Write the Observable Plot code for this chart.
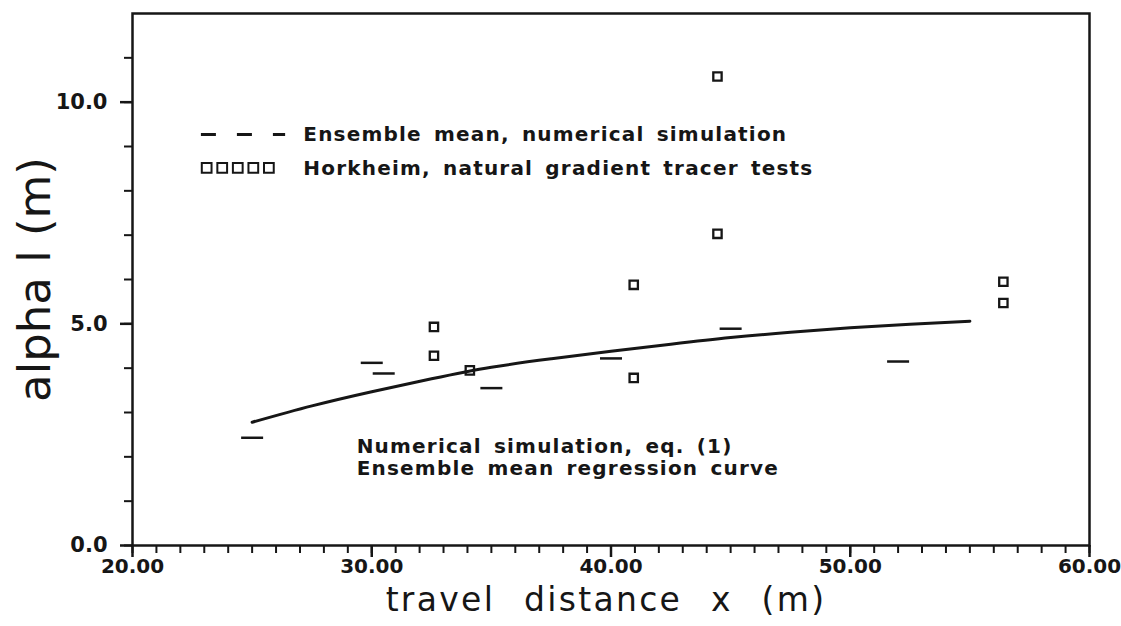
<!DOCTYPE html>
<html>
<head>
<meta charset="utf-8">
<script src="https://cdn.jsdelivr.net/npm/d3@7"></script>
<script src="https://cdn.jsdelivr.net/npm/@observablehq/plot@0.6"></script>
<style>
  html, body { margin: 0; padding: 0; background: #fff; }
  #chart { width: 1121px; height: 626px; overflow: hidden; }
</style>
</head>
<body>
<div id="chart"></div>
<script>
// ---- data ----
// Ensemble mean, numerical simulation (short horizontal dashes)
const dashX = [25.0, 30.0, 30.5, 35.0, 40.0, 45.0, 52.0];
const dashY = [2.43, 4.12, 3.88, 3.55, 4.22, 4.89, 4.15];
// Horkheim, natural gradient tracer tests (open squares)
const squareX = [32.6, 32.6, 34.1, 40.95, 40.95, 44.45, 44.45, 56.4, 56.4];
const squareY = [4.93, 4.28, 3.95, 5.88, 3.78, 10.58, 7.03, 5.95, 5.47];
// Ensemble mean regression curve, eq. (1)
const curveX = [25, 27.5, 30, 32.5, 35, 37.5, 40, 42.5, 45, 47.5, 50, 52.5, 55];
const curveY = [2.78, 3.15, 3.47, 3.76, 4.02, 4.21, 4.38, 4.54, 4.69, 4.81, 4.91, 4.99, 5.06];
// axes
const xMajor = [20, 30, 40, 50, 60];
const yMajor = [0, 5, 10];
const legendLabels = ["Ensemble mean, numerical simulation", "Horkheim, natural gradient tracer tests"];
const noteLabels = ["Numerical simulation, eq. (1)", "Ensemble mean regression curve"];
const xTitle = "travel distance x (m)";
const yTitle = "alpha l (m)";

// ---- tables ----
const dashes = dashX.map((x, i) => ({x, y: dashY[i]}));
const squares = squareX.map((x, i) => ({x, y: squareY[i]}));
const curve = curveX.map((x, i) => ({x, y: curveY[i]}));

const ink = "#161616";
const dashSymbol = { draw(ctx) { ctx.moveTo(-11, 0); ctx.lineTo(11, 0); } };
const legendSquares = d3.range(5).map(i => ({x: 23.1 + i * 0.65, y: 8.52}));

const chart = Plot.plot({
  width: 1121,
  height: 626,
  marginLeft: 132,
  marginRight: 32,
  marginTop: 13,
  marginBottom: 81,
  x: {domain: [20, 60]},
  y: {domain: [0, 12]},
  style: {fontFamily: "DejaVu Sans", background: "#fff", color: ink},
  marks: [
    // minor ticks
    Plot.axisX({ticks: d3.range(20, 61, 1), tickSize: 8, strokeWidth: 2, tickFormat: () => "", label: null}),
    Plot.axisY({ticks: d3.range(0, 12, 1), tickSize: 8, strokeWidth: 2, tickFormat: () => "", label: null}),
    // major ticks with labels
    Plot.axisX({ticks: xMajor, tickSize: 12, strokeWidth: 2.5, tickPadding: 1,
      tickFormat: d => d.toFixed(2), fontSize: 20, fontWeight: "bold", label: null}),
    Plot.axisY({ticks: yMajor, tickSize: 12, strokeWidth: 2.5, tickPadding: 13,
      tickFormat: d => d.toFixed(1), fontSize: 21, fontWeight: "bold", label: null}),
    Plot.frame({stroke: ink, strokeWidth: 2.5}),
    // axis titles
    Plot.text([xTitle], {frameAnchor: "bottom", textAnchor: "middle", dy: 65, dx: -5, fontSize: 33, fill: ink}),
    Plot.text([yTitle], {frameAnchor: "left", textAnchor: "middle", dx: -97, rotate: -90, fontSize: 45, fill: ink}),
    // regression curve
    Plot.line(curve, {x: "x", y: "y", curve: "natural", stroke: ink, strokeWidth: 3}),
    // ensemble mean dashes
    Plot.dot(dashes, {x: "x", y: "y", symbol: dashSymbol, stroke: ink, strokeWidth: 2.5}),
    // tracer test squares
    Plot.dot(squares, {x: "x", y: "y", symbol: "square", r: 4.7, stroke: ink, strokeWidth: 2.3, fill: "none"}),
    // legend
    Plot.ruleY([9.27], {x1: 22.88, x2: 26.4, stroke: ink, strokeWidth: 3, strokeDasharray: "15,21"}),
    Plot.dot(legendSquares, {x: "x", y: "y", symbol: "square", r: 5.5, stroke: ink, strokeWidth: 2, fill: "none"}),
    Plot.text([legendLabels[0]], {x: 27.14, y: 9.27, textAnchor: "start", fontSize: 20, fontWeight: "bold", fill: ink}),
    Plot.text([legendLabels[1]], {x: 27.14, y: 8.5, textAnchor: "start", fontSize: 20, fontWeight: "bold", fill: ink}),
    // annotation
    Plot.text([noteLabels[0]], {x: 29.37, y: 2.24, textAnchor: "start", fontSize: 20, fontWeight: "bold", fill: ink}),
    Plot.text([noteLabels[1]], {x: 29.37, y: 1.73, textAnchor: "start", fontSize: 20, fontWeight: "bold", fill: ink})
  ]
});

d3.select(chart).selectAll("text").each(function() {
  const t = this.textContent;
  if (legendLabels.includes(t) || noteLabels.includes(t)) {
    this.style.letterSpacing = "1.2px";
    this.style.wordSpacing = "4px";
  } else if (t === xTitle) {
    this.style.letterSpacing = "2.3px";
    this.style.wordSpacing = "16px";
  }
});

document.getElementById("chart").appendChild(chart);
</script>
</body>
</html>
